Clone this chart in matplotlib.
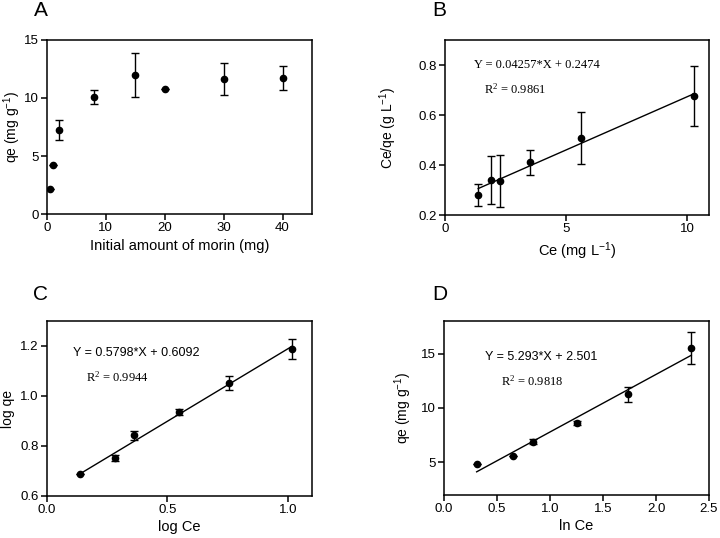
import matplotlib
matplotlib.use('Agg')
import matplotlib.pyplot as plt
import numpy as np

plt.rcParams['font.family'] = ['Liberation Sans', 'DejaVu Sans']
plt.rcParams['mathtext.default'] = 'regular'
plt.rcParams['font.size'] = 9

# Panel A - qe vs initial morin amount
morin_amt = [0.5, 1, 2, 8, 15, 20, 30, 40]
qe_a = [2.18, 4.2, 7.27, 10.06, 11.95, 10.75, 11.64, 11.72]
qe_a_err = [0, 0, 0.86, 0.6, 1.9, 0, 1.35, 1.07]

# Panel B - Langmuir
ce_b = [1.37, 1.91, 2.29, 3.50, 5.62, 10.29]
ceqe_b = [0.282, 0.341, 0.337, 0.412, 0.508, 0.677]
ceqe_b_err = [0.044, 0.097, 0.105, 0.05, 0.104, 0.12]
slope_b, icpt_b = 0.04257, 0.2474

# Panel C - Freundlich
logce_c = [0.135, 0.283, 0.363, 0.549, 0.756, 1.018]
logqe_c = [0.688, 0.753, 0.843, 0.935, 1.052, 1.188]
logqe_c_err = [0, 0.012, 0.018, 0.012, 0.027, 0.041]
slope_c, icpt_c = 0.5798, 0.6092

# Panel D - Temkin
lnce_d = [0.308, 0.648, 0.836, 1.258, 1.733, 2.333]
qe_d = [4.82, 5.62, 6.91, 8.6, 11.25, 15.52]
qe_d_err = [0, 0, 0.2, 0.2, 0.68, 1.5]
slope_d, icpt_d = 5.293, 2.501

W, H = 720, 538
fig = plt.figure(figsize=(W / 100, H / 100), dpi=100)


def make_ax(l, t, r, b):
    ax = fig.add_axes([l / W, 1 - b / H, (r - l) / W, (b - t) / H])
    ax.tick_params(direction='out', length=4, width=1.1, labelsize=9.5, pad=2)
    for s in ax.spines.values():
        s.set_linewidth(1.1)
    return ax


def points(ax, x, y, err):
    ax.errorbar(x, y, yerr=err, fmt='o', color='black', ms=4.5,
                capsize=3, elinewidth=1, capthick=1)


def fit(ax, x, m, c):
    xs = np.array([min(x), max(x)])
    ax.plot(xs, m * xs + c, color='black', lw=1)


# A
axA = make_ax(47, 40, 312, 214)
points(axA, morin_amt, qe_a, qe_a_err)
axA.set_xlim(0, 45)
axA.set_ylim(0, 15)
axA.set_xticks([0, 10, 20, 30, 40])
axA.set_yticks([0, 5, 10, 15])
axA.set_xlabel('Initial amount of morin (mg)', fontsize=10.5, labelpad=3)
axA.set_ylabel('qe (mg g$^{-1}$)', fontsize=10)
axA.yaxis.set_label_coords(-0.09, 0.5)

# B
axB = make_ax(445, 40, 709, 215)
points(axB, ce_b, ceqe_b, ceqe_b_err)
fit(axB, ce_b, slope_b, icpt_b)
axB.set_xlim(0, 10.9)
axB.set_ylim(0.2, 0.9)
axB.set_xticks([0, 5, 10])
axB.set_yticks([0.2, 0.4, 0.6, 0.8])
axB.set_xlabel('Ce (mg L$^{-1}$)', fontsize=10.5, labelpad=4)
axB.set_ylabel('Ce/qe (g L$^{-1}$)', fontsize=10)
axB.yaxis.set_label_coords(-0.175, 0.5)
axB.text(1.2, 0.8, 'Y = 0.04257*X + 0.2474', family='Liberation Serif', fontsize=9, va='center')
axB.text(1.6, 0.704, 'R$^{2}$ = 0.9861', family='Liberation Serif', fontsize=9, va='center')

# C
axC = make_ax(47, 321, 312, 496)
points(axC, logce_c, logqe_c, logqe_c_err)
fit(axC, logce_c, slope_c, icpt_c)
axC.set_xlim(0, 1.1)
axC.set_ylim(0.6, 1.3)
axC.set_xticks([0.0, 0.5, 1.0])
axC.set_xticklabels(['0.0', '0.5', '1.0'])
axC.set_yticks([0.6, 0.8, 1.0, 1.2])
axC.set_yticklabels(['0.6', '0.8', '1.0', '1.2'])
axC.set_xlabel('log Ce', fontsize=10.5, labelpad=3)
axC.set_ylabel('log qe', fontsize=10)
axC.yaxis.set_label_coords(-0.12, 0.5)
axC.text(0.108, 1.17, 'Y = 0.5798*X + 0.6092', fontsize=9, va='center')
axC.text(0.162, 1.075, 'R$^{2}$ = 0.9944', family='Liberation Serif', fontsize=9, va='center')

# D
axD = make_ax(444, 321, 709, 495)
points(axD, lnce_d, qe_d, qe_d_err)
fit(axD, lnce_d, slope_d, icpt_d)
axD.set_xlim(0, 2.5)
axD.set_ylim(2, 18)
axD.set_xticks([0.0, 0.5, 1.0, 1.5, 2.0, 2.5])
axD.set_xticklabels(['0.0', '0.5', '1.0', '1.5', '2.0', '2.5'])
axD.set_yticks([5, 10, 15])
axD.set_xlabel('ln Ce', fontsize=10.5, labelpad=3)
axD.set_ylabel('qe (mg g$^{-1}$)', fontsize=10)
axD.yaxis.set_label_coords(-0.115, 0.5)
axD.text(0.39, 14.7, 'Y = 5.293*X + 2.501', fontsize=9, va='center')
axD.text(0.54, 12.5, 'R$^{2}$ = 0.9818', family='Liberation Serif', fontsize=9, va='center')

# panel letters
for lbl, x, y in [('A', 41, 11), ('B', 439, 11), ('C', 40, 295), ('D', 440, 295)]:
    fig.text(x / W, 1 - y / H, lbl, fontsize=15, ha='center', va='center')

fig.savefig('out.png', dpi=100)
